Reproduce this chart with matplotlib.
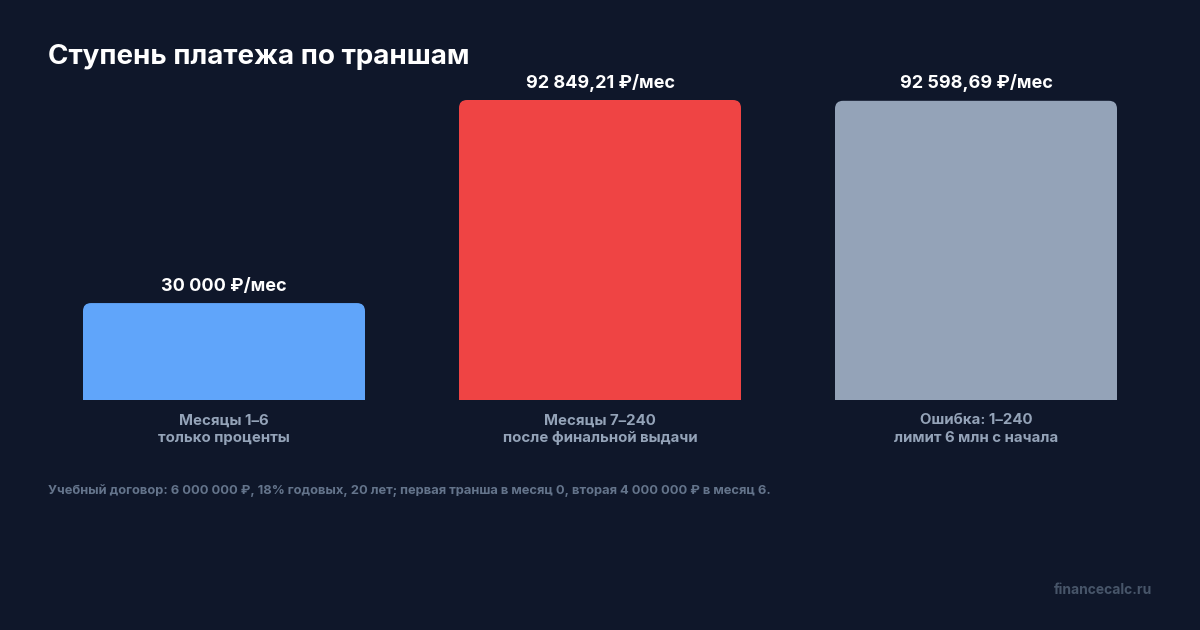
import matplotlib
matplotlib.use('Agg')
import matplotlib.pyplot as plt
from matplotlib.patches import FancyBboxPatch, Rectangle

plt.rcParams['font.family'] = ['Inter', 'DejaVu Sans']

# данные
categories = ['Месяцы 1–6\nтолько проценты',
              'Месяцы 7–240\nпосле финальной выдачи',
              'Ошибка: 1–240\nлимит 6 млн с начала']
payments = [30000.00, 92849.21, 92598.69]
value_labels = ['30 000 ₽/мес', '92 849,21 ₽/мес', '92 598,69 ₽/мес']
colors = ['#60a5fa', '#ef4444', '#94a3b8']

title = 'Ступень платежа по траншам'
note = ('Учебный договор: 6 000 000 ₽, 18% годовых, 20 лет; '
        'первая транша в месяц 0, вторая 4 000 000 ₽ в месяц 6.')
source = 'financecalc.ru'

BG = '#0f172a'
W, H = 1200, 630

fig = plt.figure(figsize=(W / 100, H / 100), dpi=100, facecolor=BG)
# оси: x от 36 до 1164 px, y от 400 (база) до 60 px
ax = fig.add_axes([36 / W, (H - 400) / H, 1128 / W, 340 / H])
ax.set_facecolor(BG)
ymax = max(payments) * 340 / 300
ax.set_xlim(-0.5, len(payments) - 0.5)
ax.set_ylim(0, ymax)
for s in ax.spines.values():
    s.set_visible(False)
ax.set_yticks([])

bar_w = 0.75
px_x = 1 / 376.0           # единиц x на пиксель
px_y = ymax / 340.0        # единиц y на пиксель
radius = 8 * px_x
aspect = px_y / px_x

for i, (v, c) in enumerate(zip(payments, colors)):
    x0 = i - bar_w / 2
    box = FancyBboxPatch((x0, 0), bar_w, v,
                         boxstyle=f'round,pad=0,rounding_size={radius}',
                         mutation_aspect=aspect, fc=c, ec='none')
    ax.add_patch(box)
    # низ без скругления
    ax.add_patch(Rectangle((x0, 0), bar_w, v / 2, fc=c, ec='none'))
    ax.annotate(value_labels[i], (i, v), xytext=(0, 6), textcoords='offset points',
                ha='center', va='bottom', color='white', fontsize=13,
                fontweight='bold')

ax.set_xticks(range(len(categories)), categories)
ax.tick_params(axis='x', length=0, pad=9.5, labelcolor='#94a3b8', labelsize=10.8)
for t in ax.get_xticklabels():
    t.set_fontweight('bold')
    t.set_linespacing(1.35)

fig.text(48 / W, 1 - 57 / H, title, color='white', fontsize=20,
         fontweight='bold', va='center', ha='left')
fig.text(48 / W, 1 - 491 / H, note, color='#64748b', fontsize=9.3,
         fontweight='bold', va='center', ha='left')
fig.text(1152 / W, 1 - 590 / H, source, color='#475569', fontsize=10,
         fontweight='bold', va='center', ha='right')

fig.savefig('out.png', dpi=100, facecolor=BG)
